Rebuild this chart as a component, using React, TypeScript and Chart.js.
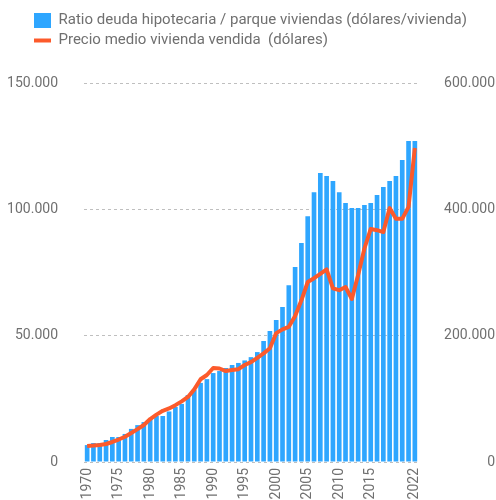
import React, { useEffect, useRef } from "react";
import { Chart, registerables } from "chart.js";

Chart.register(...registerables);

const years: number[] = [
  1970, 1971, 1972, 1973, 1974, 1975, 1976, 1977, 1978, 1979,
  1980, 1981, 1982, 1983, 1984, 1985, 1986, 1987, 1988, 1989,
  1990, 1991, 1992, 1993, 1994, 1995, 1996, 1997, 1998, 1999,
  2000, 2001, 2002, 2003, 2004, 2005, 2006, 2007, 2008, 2009,
  2010, 2011, 2012, 2013, 2014, 2015, 2016, 2017, 2018, 2019,
  2020, 2021, 2022,
];

// Ratio deuda hipotecaria / parque viviendas (dólares/vivienda)
const debtPerHome: number[] = [
  6700, 7500, 7500, 8700, 9900, 9900, 11100, 13100, 14600, 15800,
  17000, 18200, 18200, 20000, 21800, 23000, 26500, 28500, 31300, 32800,
  35200, 36000, 37200, 38400, 39200, 40200, 41500, 43500, 47900, 51800,
  56200, 61300, 70000, 77200, 86700, 97300, 106800, 114400, 113200, 111200,
  106800, 102500, 100500, 100500, 101700, 102500, 105700, 108800, 111200, 113200,
  119500, 127000, 127000,
];

// Precio medio vivienda vendida (dólares)
const avgPrice: number[] = [
  25300, 26000, 27000, 28500, 31700, 35600, 40000, 46000, 52000, 58600,
  68000, 75000, 81000, 84700, 90000, 96000, 103000, 115000, 131000, 137700,
  148800, 148000, 144000, 145600, 147000, 153500, 158000, 165000, 172000, 180000,
  204000, 210000, 214000, 231000, 256000, 285000, 291000, 298000, 305000, 275000,
  272000, 277000, 258000, 296000, 338000, 369000, 367000, 364000, 402000, 385000,
  385000, 404000, 497000,
];

const leftTicks: number[] = [0, 50000, 100000, 150000];
const rightTicks: number[] = [0, 200000, 400000, 600000];
const shownYears: number[] = [1970, 1975, 1980, 1985, 1990, 1995, 2000, 2005, 2010, 2015, 2022];

const seriesNames: string[] = [
  "Ratio deuda hipotecaria / parque viviendas (dólares/vivienda)",
  "Precio medio vivienda vendida  (dólares)",
];

const fmt = (v: number) => String(v).replace(/\B(?=(\d{3})+(?!\d))/g, ".");

const BAR_COLOR = "#2ea6ff";
const LINE_COLOR = "#fc5a2b";
const TEXT_COLOR = "#707070";
const GRID_COLOR = "rgba(170,170,170,0.75)";

export default function App() {
  const ref = useRef<HTMLCanvasElement | null>(null);

  useEffect(() => {
    if (!ref.current) return;
    Chart.defaults.font.family = "Roboto";
    Chart.defaults.font.size = 14;
    Chart.defaults.color = TEXT_COLOR;

    const legendPlacement = {
      id: "legendPlacement",
      beforeInit(chart: any) {
        const legend = chart.legend;
        if (!legend) return;
        const orig = legend.fit;
        legend.fit = function () {
          orig.call(this);
          this.height = 75;
        };
      },
      afterLayout(chart: any) {
        const legend = chart.legend;
        if (!legend) return;
        legend.left = 29;
      },
    };

    const chart = new Chart(ref.current, {
      type: "bar",
      data: {
        labels: years.map(String),
        datasets: [
          {
            type: "bar",
            label: seriesNames[0],
            data: debtPerHome,
            backgroundColor: BAR_COLOR,
            borderWidth: 0,
            yAxisID: "y",
            order: 2,
            barPercentage: 0.74,
            categoryPercentage: 1,
            pointStyle: "rect",
          } as any,
          {
            type: "line",
            label: seriesNames[1],
            data: avgPrice,
            borderColor: LINE_COLOR,
            backgroundColor: LINE_COLOR,
            borderWidth: 4,
            pointRadius: 0,
            tension: 0,
            yAxisID: "y1",
            order: 1,
            pointStyle: "line",
            borderJoinStyle: "round",
          } as any,
        ],
      },
      options: {
        animation: false,
        responsive: true,
        maintainAspectRatio: false,
        layout: { padding: { left: 0, top: 8, right: 1, bottom: 0 } },
        plugins: {
          tooltip: { enabled: false },
          legend: {
            position: "top",
            align: "start",
            labels: {
              usePointStyle: true,
              pointStyleWidth: 17,
              padding: 5,
              color: TEXT_COLOR,
              font: { size: 15, family: "Roboto" },
              sort: (a: any, b: any) => a.datasetIndex - b.datasetIndex,
            },
          },
        },
        scales: {
          x: {
            grid: { display: false, drawTicks: false },
            border: { display: false },
            ticks: {
              autoSkip: false,
              maxRotation: 90,
              minRotation: 90,
              padding: 6,
              color: TEXT_COLOR,
              font: { size: 14 },
              callback: function (_v: any, i: number) {
                const y = years[i];
                return shownYears.includes(y) ? String(y) : "";
              },
            },
            afterFit: (s: any) => {
              s.height = 38;
            },
          },
          y: {
            position: "left",
            min: 0,
            max: 150000,
            z: 1,
            afterBuildTicks: (s: any) => {
              s.ticks = leftTicks.map((v) => ({ value: v }));
            },
            grid: { color: GRID_COLOR, lineWidth: 1, drawTicks: false },
            border: { display: false, dash: [3, 3] },
            ticks: {
              padding: 26,
              color: TEXT_COLOR,
              font: { size: 14 },
              callback: (v: any) => fmt(Number(v)),
            },
            afterFit: (s: any) => {
              s.width = 84;
            },
          },
          y1: {
            position: "right",
            min: 0,
            max: 600000,
            afterBuildTicks: (s: any) => {
              s.ticks = rightTicks.map((v) => ({ value: v }));
            },
            grid: { display: false, drawTicks: false },
            border: { display: false },
            ticks: {
              crossAlign: "far",
              color: TEXT_COLOR,
              font: { size: 14 },
              callback: (v: any) => fmt(Number(v)),
            },
            afterFit: (s: any) => {
              s.width = 77;
            },
          },
        },
      } as any,
      plugins: [legendPlacement],
    });

    return () => chart.destroy();
  }, []);

  return (
    <div style={{ position: "absolute", left: 0, top: 0, width: 496, height: 500 }}>
      <canvas ref={ref} />
    </div>
  );
}
